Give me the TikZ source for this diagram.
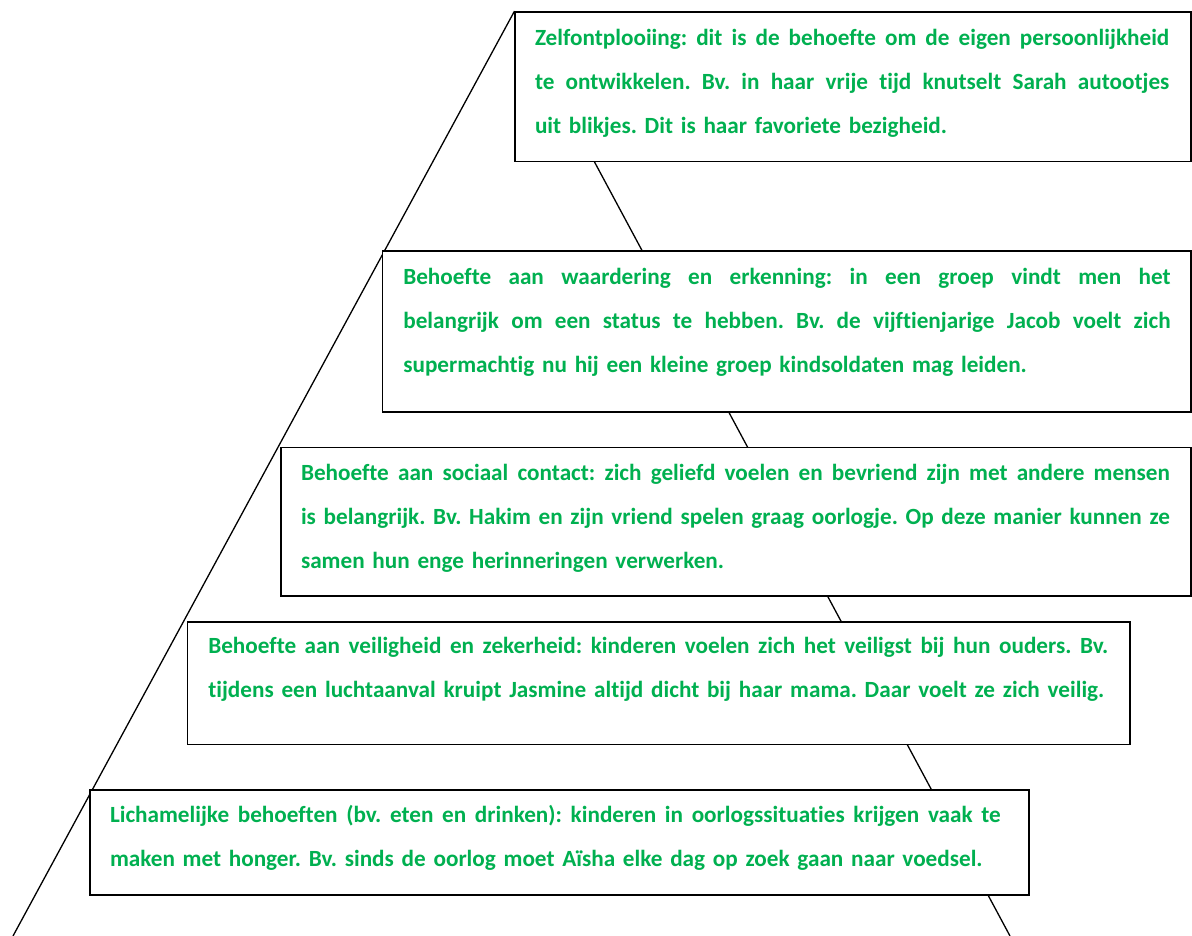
\documentclass[tikz,border=0pt]{standalone}
\usepackage{fontspec}
\setmainfont{Carlito}[Ligatures={NoCommon}]
\definecolor{wgreen}{RGB}{0,176,80}
\newcommand\jl[2]{\leavevmode\hbox to #1{\spaceskip=\fontdimen2\font plus 1fil\relax #2}\par}
\newcommand\nl[1]{\leavevmode\hbox{#1}\par}
\begin{document}
\begin{tikzpicture}[x=1pt,y=-1pt,
  pyr/.style={line width=1.3pt,black},
  lvlbox/.style={draw=black,line width=1.6pt,fill=white,inner sep=0pt,outer sep=0pt,anchor=north west},
  lvltxt/.style={anchor=base west,inner sep=0pt,outer sep=0pt,text=wgreen,
    font=\fontsize{23.2}{44}\selectfont\bfseries\frenchspacing}]
\useasboundingbox[fill=white] (0,0) rectangle (1192,936);
\coordinate (apex) at (514,12);
\coordinate (bl) at (13,936);
\coordinate (br) at (1010,936);
\draw[pyr] (bl) -- (apex) -- (br);

\node[lvlbox,minimum width=676.3pt,minimum height=149.4pt] (b1) at (514.7,12.3) {};
\node[lvlbox,minimum width=808.4pt,minimum height=161pt] (b2) at (382.3,251) {};
\node[lvlbox,minimum width=910.3pt,minimum height=148.4pt] (b3) at (280.7,447.3) {};
\node[lvlbox,minimum width=942.7pt,minimum height=122.6pt] (b4) at (187.3,621.7) {};
\node[lvlbox,minimum width=939pt,minimum height=105pt] (b5) at (90,790) {};

\node[lvltxt,text width=634.3pt] (t1) at (535,46) {%
\jl{634.3pt}{Zelfontplooiing: dit is de behoefte om de eigen persoonlijkheid}%
\jl{634.3pt}{te ontwikkelen. Bv. in haar vrije tijd knutselt Sarah autootjes}%
\nl{uit blikjes. Dit is haar favoriete bezigheid.}};

\node[lvltxt,text width=767.4pt] (t2) at (403.3,284.3) {%
\jl{767.4pt}{Behoefte aan waardering en erkenning: in een groep vindt men het}%
\jl{767.4pt}{belangrijk om een status te hebben. Bv. de vijftienjarige Jacob voelt zich}%
\nl{supermachtig nu hij een kleine groep kindsoldaten mag leiden.}};

\node[lvltxt,text width=869pt] (t3) at (301,480.7) {%
\jl{869pt}{Behoefte aan sociaal contact: zich geliefd voelen en bevriend zijn met andere mensen}%
\jl{869pt}{is belangrijk. Bv. Hakim en zijn vriend spelen graag oorlogje. Op deze manier kunnen ze}%
\nl{samen hun enge herinneringen verwerken.}};

\node[lvltxt,text width=900pt] (t4) at (208.3,653.3) {%
\jl{900pt}{Behoefte aan veiligheid en zekerheid: kinderen voelen zich het veiligst bij hun ouders. Bv.}%
\nl{tijdens een luchtaanval kruipt Jasmine altijd dicht bij haar mama. Daar voelt ze zich veilig.}};

\node[lvltxt,text width=890.7pt] (t5) at (110,822.7) {%
\jl{890.7pt}{Lichamelijke behoeften (bv. eten en drinken): kinderen in oorlogssituaties krijgen vaak te}%
\nl{maken met honger. Bv. sinds de oorlog moet Aïsha elke dag op zoek gaan naar voedsel.}};
\end{tikzpicture}
\end{document}
